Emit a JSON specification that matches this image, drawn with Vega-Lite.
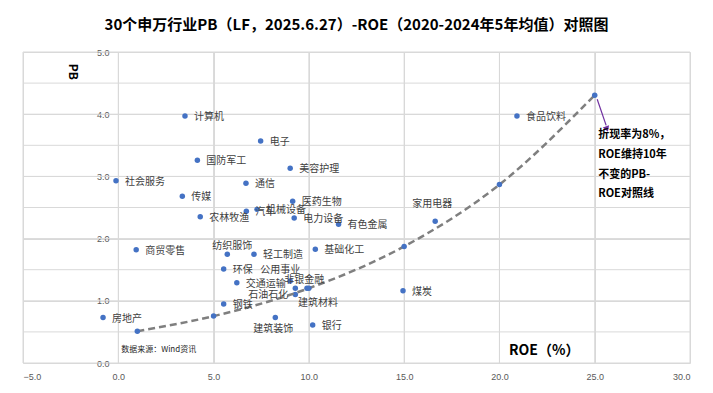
{
  "$schema": "https://vega.github.io/schema/vega-lite/v6.json",
  "width": 667,
  "height": 311,
  "autosize": {"type": "none"},
  "padding": {"left": 23, "top": 52, "right": 23, "bottom": 30},
  "title": {
    "text": "30个申万行业PB（LF，2025.6.27）-ROE（2020-2024年5年均值）对照图",
    "font": "Noto Sans CJK SC",
    "fontSize": 15,
    "fontWeight": "bold",
    "color": "#000000",
    "anchor": "middle",
    "frame": "group",
    "offset": 15
  },
  "config": {
    "view": {"stroke": null},
    "axis": {
      "grid": true,
      "gridColor": "#d9d9d9",
      "domain": false,
      "ticks": false,
      "labelColor": "#595959",
      "labelFont": "Liberation Sans",
      "labelFontSize": 9,
      "title": null
    },
    "text": {"font": "Noto Sans CJK SC", "fontSize": 10, "color": "#404040"}
  },
  "datasets": {
    "industries": [
      {"name": "计算机", "roe": 3.5, "pb": 3.97},
      {"name": "电子", "roe": 7.47, "pb": 3.57},
      {"name": "国防军工", "roe": 4.15, "pb": 3.26},
      {"name": "美容护理", "roe": 9.02, "pb": 3.13},
      {"name": "社会服务", "roe": -0.12, "pb": 2.93},
      {"name": "通信", "roe": 6.7, "pb": 2.89},
      {"name": "传媒", "roe": 3.36, "pb": 2.68},
      {"name": "医药生物", "roe": 9.15, "pb": 2.6},
      {"name": "汽车", "roe": 6.72, "pb": 2.44},
      {"name": "机械设备", "roe": 7.28, "pb": 2.47},
      {"name": "农林牧渔", "roe": 4.3, "pb": 2.35},
      {"name": "电力设备", "roe": 9.23, "pb": 2.33},
      {"name": "有色金属", "roe": 11.56, "pb": 2.23},
      {"name": "家用电器", "roe": 16.63, "pb": 2.28},
      {"name": "食品饮料", "roe": 20.92, "pb": 3.97},
      {"name": "商贸零售", "roe": 0.94, "pb": 1.82},
      {"name": "纺织服饰", "roe": 5.72, "pb": 1.75},
      {"name": "轻工制造", "roe": 7.12, "pb": 1.75},
      {"name": "基础化工", "roe": 10.34, "pb": 1.83},
      {"name": "环保", "roe": 5.53, "pb": 1.51},
      {"name": "公用事业", "roe": 9.02, "pb": 1.32},
      {"name": "非银金融", "roe": 9.29, "pb": 1.2},
      {"name": "交通运输", "roe": 6.22, "pb": 1.29},
      {"name": "石油石化", "roe": 9.29, "pb": 1.1},
      {"name": "建筑材料", "roe": 9.9, "pb": 1.2},
      {"name": "钢铁", "roe": 5.53, "pb": 0.95},
      {"name": "建筑装饰", "roe": 8.24, "pb": 0.73},
      {"name": "银行", "roe": 10.2, "pb": 0.61},
      {"name": "房地产", "roe": -0.8, "pb": 0.73},
      {"name": "煤炭", "roe": 14.94, "pb": 1.16}
    ],
    "refline": [
      {"roe": 1, "pb": 0.512},
      {"roe": 5, "pb": 0.754},
      {"roe": 10, "pb": 1.202},
      {"roe": 15, "pb": 1.874},
      {"roe": 20, "pb": 2.868},
      {"roe": 25, "pb": 4.306}
    ]
  },
  "layer": [
    {
      "data": {"values": [{"tick": -5}, {"tick": 0}, {"tick": 5}, {"tick": 10}, {"tick": 15}, {"tick": 20}, {"tick": 25}, {"tick": 30}]},
      "mark": {"type": "rule", "color": "#d9d9d9", "strokeWidth": 1},
      "encoding": {
        "x": {"field": "tick", "type": "quantitative", "scale": {"domain": [-5, 30], "nice": false, "zero": false},
              "axis": {"orient": "bottom", "values": [-5, 0, 5, 10, 15, 20, 25, 30], "format": ".1f", "labelPadding": 9, "grid": true}}
      }
    },
    {
      "data": {"values": [{"tick": 0}, {"tick": 0.5}, {"tick": 1}, {"tick": 1.5}, {"tick": 2}, {"tick": 2.5}, {"tick": 3}, {"tick": 3.5}, {"tick": 4}, {"tick": 4.5}, {"tick": 5}]},
      "mark": {"type": "rule", "color": "#d9d9d9", "strokeWidth": 1},
      "encoding": {
        "y": {"field": "tick", "type": "quantitative", "scale": {"domain": [0, 5], "nice": false, "zero": false},
              "axis": {"orient": "left", "offset": -95, "values": [0, 0.5, 1, 1.5, 2, 2.5, 3, 3.5, 4, 4.5, 5], "format": ".1f", "labelPadding": 9, "grid": true}}
      }
    },
    {
      "data": {"name": "industries"},
      "mark": {"type": "point", "filled": true, "size": 30, "color": "#4472C4", "opacity": 1},
      "encoding": {
        "x": {"field": "roe", "type": "quantitative"},
        "y": {"field": "pb", "type": "quantitative"}
      }
    },
    {
      "data": {"name": "refline"},
      "mark": {"type": "line", "interpolate": "monotone", "strokeDash": [7, 4], "strokeWidth": 2.5, "color": "#7f7f7f"},
      "encoding": {
        "x": {"field": "roe", "type": "quantitative"},
        "y": {"field": "pb", "type": "quantitative"}
      }
    },
    {
      "data": {"name": "refline"},
      "mark": {"type": "point", "filled": true, "size": 30, "color": "#4472C4", "opacity": 1},
      "encoding": {
        "x": {"field": "roe", "type": "quantitative"},
        "y": {"field": "pb", "type": "quantitative"}
      }
    },
    {
      "data": {"name": "industries"},
      "transform": [{"filter": {"not": {"field": "name", "oneOf": ["纺织服饰", "家用电器", "公用事业", "非银金融", "石油石化", "建筑材料", "建筑装饰"]}}}],
      "mark": {"type": "text", "align": "left", "baseline": "middle", "dx": 9, "dy": 1},
      "encoding": {
        "x": {"field": "roe", "type": "quantitative"},
        "y": {"field": "pb", "type": "quantitative"},
        "text": {"field": "name"}
      }
    },
    {
      "data": {"name": "industries"},
      "transform": [{"filter": {"field": "name", "oneOf": ["纺织服饰"]}}],
      "mark": {"type": "text", "align": "center", "baseline": "middle", "dx": 5, "dy": -8},
      "encoding": {
        "x": {"field": "roe", "type": "quantitative"},
        "y": {"field": "pb", "type": "quantitative"},
        "text": {"field": "name"}
      }
    },
    {
      "data": {"name": "industries"},
      "transform": [{"filter": {"field": "name", "oneOf": ["家用电器"]}}],
      "mark": {"type": "text", "align": "center", "baseline": "middle", "dx": -3, "dy": -17},
      "encoding": {
        "x": {"field": "roe", "type": "quantitative"},
        "y": {"field": "pb", "type": "quantitative"},
        "text": {"field": "name"}
      }
    },
    {
      "data": {"name": "industries"},
      "transform": [{"filter": {"field": "name", "oneOf": ["公用事业"]}}],
      "mark": {"type": "text", "align": "center", "baseline": "middle", "dx": -10, "dy": -11},
      "encoding": {
        "x": {"field": "roe", "type": "quantitative"},
        "y": {"field": "pb", "type": "quantitative"},
        "text": {"field": "name"}
      }
    },
    {
      "data": {"name": "industries"},
      "transform": [{"filter": {"field": "name", "oneOf": ["非银金融"]}}],
      "mark": {"type": "text", "align": "center", "baseline": "middle", "dx": 9, "dy": -8},
      "encoding": {
        "x": {"field": "roe", "type": "quantitative"},
        "y": {"field": "pb", "type": "quantitative"},
        "text": {"field": "name"}
      }
    },
    {
      "data": {"name": "industries"},
      "transform": [{"filter": {"field": "name", "oneOf": ["石油石化"]}}],
      "mark": {"type": "text", "align": "right", "baseline": "middle", "dx": -7, "dy": 0},
      "encoding": {
        "x": {"field": "roe", "type": "quantitative"},
        "y": {"field": "pb", "type": "quantitative"},
        "text": {"field": "name"}
      }
    },
    {
      "data": {"name": "industries"},
      "transform": [{"filter": {"field": "name", "oneOf": ["建筑材料"]}}],
      "mark": {"type": "text", "align": "center", "baseline": "middle", "dx": 11, "dy": 15},
      "encoding": {
        "x": {"field": "roe", "type": "quantitative"},
        "y": {"field": "pb", "type": "quantitative"},
        "text": {"field": "name"}
      }
    },
    {
      "data": {"name": "industries"},
      "transform": [{"filter": {"field": "name", "oneOf": ["建筑装饰"]}}],
      "mark": {"type": "text", "align": "center", "baseline": "middle", "dx": -2, "dy": 11},
      "encoding": {
        "x": {"field": "roe", "type": "quantitative"},
        "y": {"field": "pb", "type": "quantitative"},
        "text": {"field": "name"}
      }
    },
    {
      "data": {"values": [{}]},
      "mark": {"type": "rule", "color": "#7030A0", "strokeWidth": 1.2},
      "encoding": {
        "x": {"datum": 25.13, "type": "quantitative"},
        "y": {"datum": 4.24, "type": "quantitative"},
        "x2": {"datum": 25.6},
        "y2": {"datum": 3.82}
      }
    },
    {
      "data": {"values": [{}]},
      "mark": {"type": "point", "shape": "triangle-down", "filled": true, "size": 45, "angle": -20, "color": "#7030A0", "opacity": 1},
      "encoding": {
        "x": {"datum": 25.64, "type": "quantitative"},
        "y": {"datum": 3.76, "type": "quantitative"}
      }
    },
    {
      "data": {"values": [{}]},
      "mark": {
        "type": "text",
        "text": ["折现率为8%，", "ROE维持10年", "不变的PB-", "ROE对照线"],
        "align": "left",
        "baseline": "middle",
        "fontWeight": "bold",
        "fontSize": 11,
        "lineHeight": 19.7,
        "color": "#000000"
      },
      "encoding": {
        "x": {"datum": 25.18, "type": "quantitative"},
        "y": {"datum": 3.66, "type": "quantitative"}
      }
    },
    {
      "data": {"values": [{}]},
      "mark": {"type": "text", "text": "数据来源：Wind资讯", "align": "left", "baseline": "middle", "fontSize": 8, "color": "#262626"},
      "encoding": {
        "x": {"datum": 0.15, "type": "quantitative"},
        "y": {"datum": 0.21, "type": "quantitative"}
      }
    },
    {
      "data": {"values": [{}]},
      "mark": {"type": "text", "text": "ROE（%）", "align": "left", "baseline": "middle", "fontSize": 14, "fontWeight": "bold", "color": "#000000"},
      "encoding": {
        "x": {"datum": 20.5, "type": "quantitative"},
        "y": {"datum": 0.19, "type": "quantitative"}
      }
    },
    {
      "data": {"values": [{}]},
      "mark": {"type": "text", "text": "PB", "align": "center", "baseline": "middle", "angle": 90, "fontSize": 12, "fontWeight": "bold", "color": "#000000"},
      "encoding": {
        "x": {"datum": -2.36, "type": "quantitative"},
        "y": {"datum": 4.68, "type": "quantitative"}
      }
    }
  ]
}
